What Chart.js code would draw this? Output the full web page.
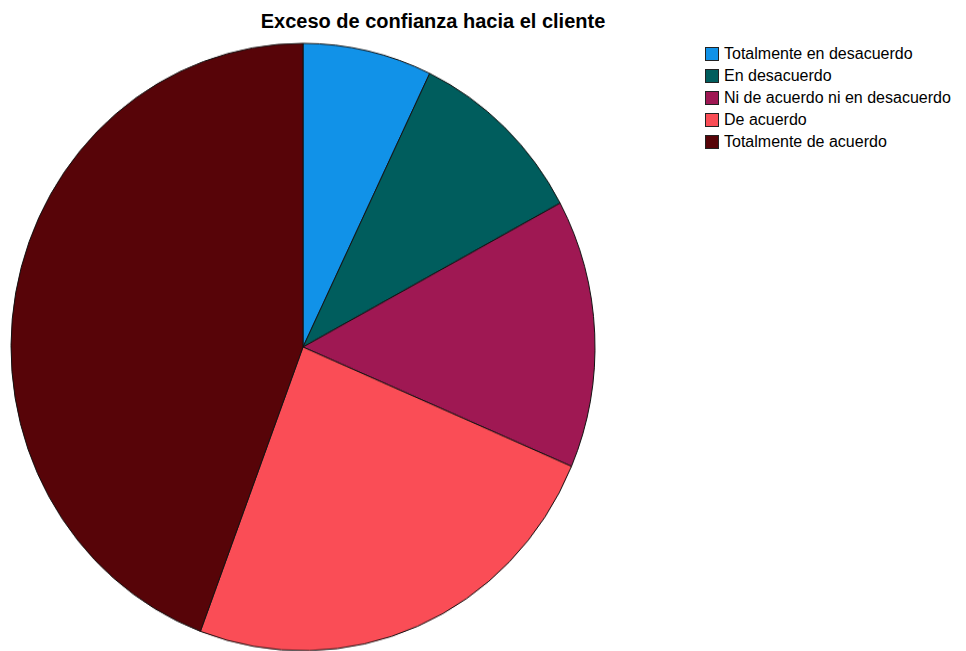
<!DOCTYPE html>
<html>
<head>
<meta charset="utf-8">
<script src="https://cdn.jsdelivr.net/npm/chart.js@4.4.1/dist/chart.umd.min.js"></script>
<style>
  html, body { margin: 0; padding: 0; background: #fff; }
  body { width: 966px; height: 651px; position: relative; overflow: hidden;
         font-family: "Liberation Sans", Arial, sans-serif; color: #000; }
  #title { position: absolute; left: 0; top: 10px; width: 866px; text-align: center;
           font-weight: bold; font-size: 20px; }
  /* pie box: stretched a bit vertically, like the exported chart */
  #pie-box { position: absolute; left: 3px; top: 47px; width: 600px; height: 600px;
             transform: scaleY(1.04); transform-origin: 50% 50%; }
  #legend { position: absolute; left: 705px; top: 43px; font-size: 16px; line-height: 22px; }
  #legend .key { display: flex; align-items: center; white-space: nowrap; }
  #legend .swatch { width: 14px; height: 14px; box-sizing: border-box; border: 1px solid #222;
                    margin-right: 5px; }
</style>
</head>
<body>
<div id="title">Exceso de confianza hacia el cliente</div>
<div id="pie-box"><canvas id="chart-pie"></canvas></div>
<div id="legend"></div>
<script>
  var CATEGORIES = ["Totalmente en desacuerdo", "En desacuerdo", "Ni de acuerdo ni en desacuerdo",
                    "De acuerdo", "Totalmente de acuerdo"];
  var COUNTS = [5, 7, 10, 17, 31];
  var COLORS = ["#1192e8", "#005d5d", "#9f1853", "#fa4d56", "#570408"];

  function buildLegend(id, labels, colors) {
    var box = document.getElementById(id);
    labels.forEach(function (l, i) {
      var key = document.createElement("div");
      key.className = "key";
      var sw = document.createElement("span");
      sw.className = "swatch";
      sw.style.background = colors[i];
      key.appendChild(sw);
      key.appendChild(document.createTextNode(l));
      box.appendChild(key);
    });
  }

  buildLegend("legend", CATEGORIES, COLORS);

  new Chart(document.getElementById("chart-pie"), {
    type: "pie",
    data: {
      labels: CATEGORIES,
      datasets: [{
        data: COUNTS,
        backgroundColor: COLORS,
        borderColor: "#111",
        borderWidth: 1,
        hoverOffset: 0
      }]
    },
    options: {
      responsive: true, maintainAspectRatio: false, animation: false,
      radius: 292,
      layout: { padding: 0 },
      plugins: { legend: { display: false }, title: { display: false }, tooltip: { enabled: false } }
    }
  });
</script>
</body>
</html>
